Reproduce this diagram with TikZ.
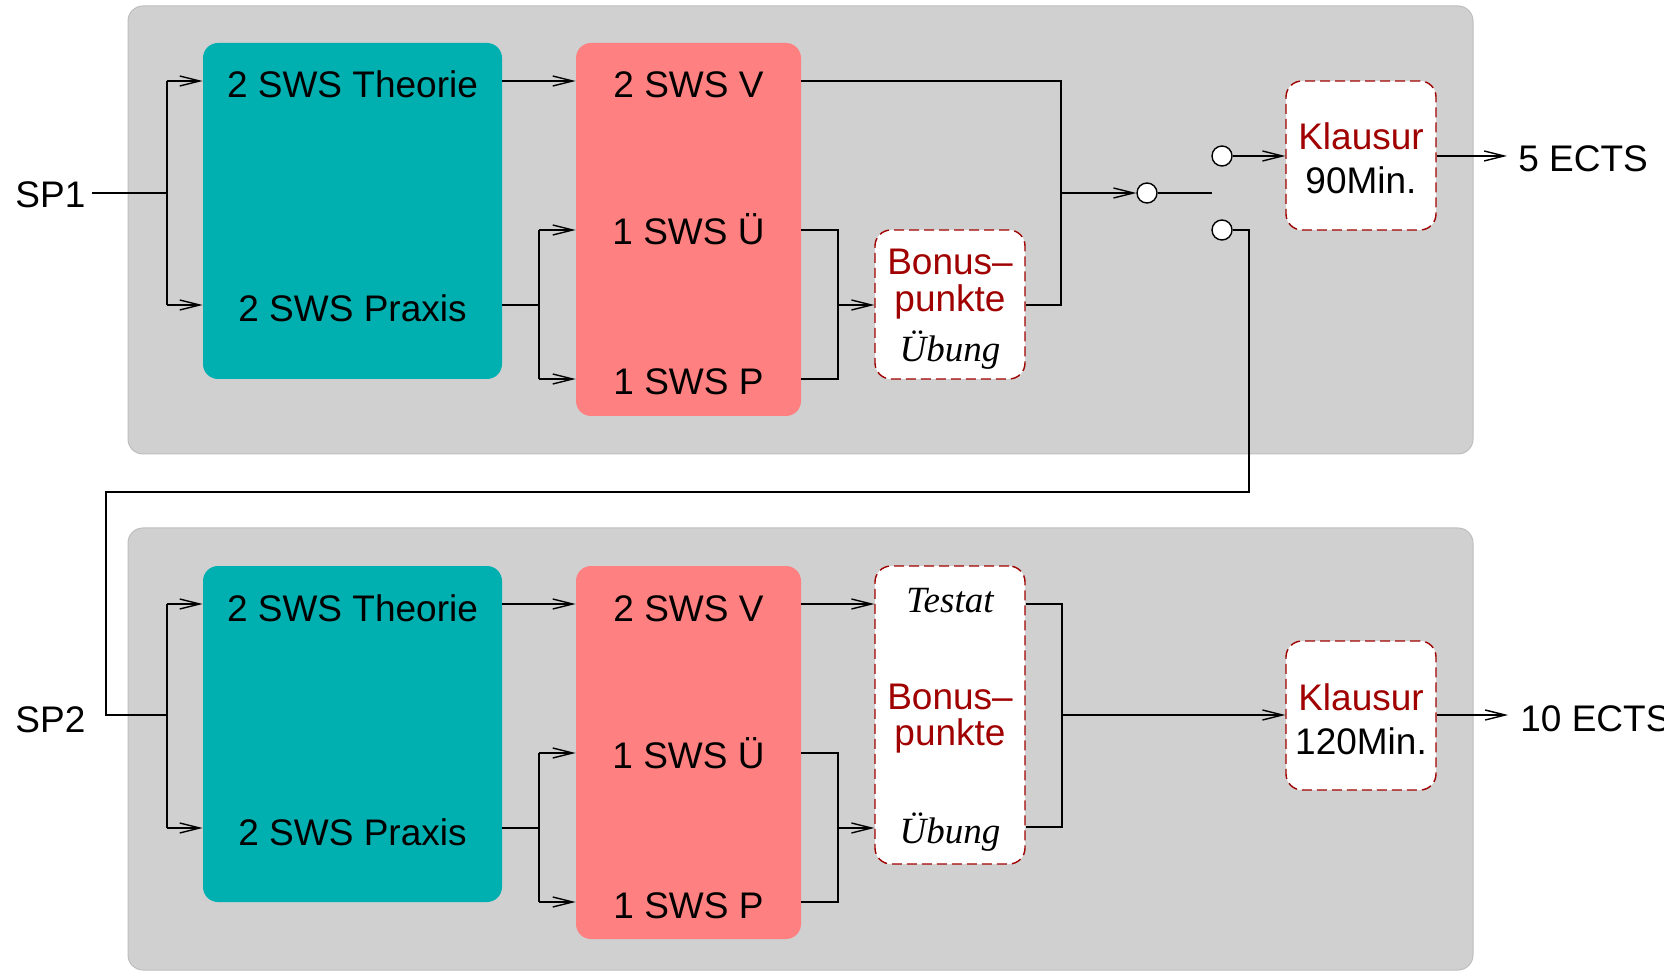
\documentclass[tikz,border=0pt]{standalone}
\usepackage{fontspec}
\setmainfont{Liberation Sans}
\newfontfamily\timesit{Liberation Serif}
\usepackage{tikz}
\usetikzlibrary{calc,arrows.meta,positioning}
\definecolor{panel}{HTML}{D0D0D0}
\definecolor{panelrim}{HTML}{BEBEBE}
\definecolor{theo}{HTML}{00AFAF}
\definecolor{sws}{HTML}{FF8080}
\definecolor{exam}{HTML}{A00000}
\tikzset{
  pane/.style={rectangle, draw=panelrim, fill=panel, line width=0.5pt, rounded corners=7.5pt, inner sep=0pt},
  theobox/.style={rectangle, fill=theo, rounded corners=7.5pt, inner sep=0pt},
  swsbox/.style={rectangle, fill=sws, rounded corners=7.5pt, inner sep=0pt},
  exambox/.style={rectangle, draw=exam, fill=white, line width=0.7pt, dash pattern=on 5pt off 2.5pt, rounded corners=8pt, inner sep=0pt},
  wire/.style={draw=black, line width=0.7pt},
  arr/.style={wire, -{Straight Barb[length=10pt,width=5pt]}},
  swc/.style={circle, draw=black, fill=white, line width=0.7pt, minimum size=10pt, inner sep=0pt},
  lab/.style={font=\fontsize{18.5}{22}\selectfont, inner sep=0pt, anchor=base},
  labr/.style={lab, text=exam},
  labi/.style={lab, font=\fontsize{18.5}{22}\selectfont\timesit\itshape},
}

\begin{document}
\begin{tikzpicture}[x=0.5pt,y=-0.5pt]
\useasboundingbox (0,0) rectangle (1664,972);

% panels
\node[pane, minimum width=672.5pt, minimum height=224pt] (pan1) at (800.5,230) {};
\node[pane, minimum width=672.5pt, minimum height=221pt] (pan2) at (800.5,749) {};

% bonus and exam boxes
\node[exambox, minimum width=75pt, minimum height=74.5pt] (bp1) at (950,304.5) {};
\node[exambox, minimum width=75pt, minimum height=149pt] (bp2) at (950,715) {};
\node[exambox, minimum width=75pt, minimum height=74.5pt] (kl1) at (1361,155.5) {};
\node[exambox, minimum width=75pt, minimum height=74.5pt] (kl2) at (1361,715.5) {};

% both rows
\foreach \r/\dy in {1/0,2/523}{
  \node[theobox, minimum width=149.5pt, minimum height=168pt] (th\r) at (352.5,211+\dy) {};
  \node[swsbox, minimum width=112.5pt, minimum height=186.5pt] (vl\r) at (688.5,229.5+\dy) {};
  \node[lab] (tt\r) at (352.5,98+\dy) {2 SWS Theorie};
  \node[lab] (tp\r) at (352.5,322+\dy) {2 SWS Praxis};
  \node[lab] (sv\r) at (688.5,98+\dy) {2 SWS V};
  \node[lab] (su\r) at (688.5,245+\dy) {1 SWS Ü};
  \node[lab] (sp\r) at (688.5,395+\dy) {1 SWS P};

  \coordinate (jt\r) at (167,81+\dy);
  \coordinate (jp\r) at (167,305+\dy);
  \coordinate (jq\r) at (539,305+\dy);
  \coordinate (jqa\r) at (539,230+\dy);
  \coordinate (jqb\r) at (539,379+\dy);
  \coordinate (jua\r) at (838,230+\dy);
  \coordinate (jub\r) at (838,379+\dy);
  \coordinate (ju\r) at (838,305+\dy);

  \draw[wire] (jt\r) -- (jp\r);
  \draw[arr] (jt\r) -- (jt\r -| th\r.west);
  \draw[arr] (jp\r) -- (jp\r -| th\r.west);
  \draw[arr] (th\r.east |- jt\r) -- (vl\r.west |- jt\r);
  \draw[wire] (th\r.east |- jq\r) -- (jq\r);
  \draw[wire] (jqa\r) -- (jqb\r);
  \draw[arr] (jqa\r) -- (jqa\r -| vl\r.west);
  \draw[arr] (jqb\r) -- (jqb\r -| vl\r.west);
  \draw[wire] (vl\r.east |- jua\r) -- (jua\r) -- (jub\r) -- (vl\r.east |- jub\r);
  \draw[arr] (ju\r) -- (ju\r -| bp\r.west);
}

% row 1
\node[lab, anchor=base west] (sp1l) at (15,208) {SP1};
\coordinate (in1) at (92,193);
\coordinate (js1) at (167,193);
\draw[wire] (in1) -- (js1);

\node[labr] (bo1) at (950,275) {Bonus–};
\node[labr] (pu1) at (950,312) {punkte};
\node[labi] (ub1) at (950,362) {Übung};
\node[labr] (kt1) at (1361,150) {Klausur};
\node[lab] (km1) at (1361,194) {90Min.};
\node[lab, anchor=base west] (ects1) at (1518,172) {5 ECTS};

\coordinate (jv1) at (1061,81);
\coordinate (jb1) at (1061,305);
\coordinate (jm1) at (1061,193);
\draw[wire] (vl1.east |- jv1) -- (jv1) -- (jb1) -- (bp1.east |- jb1);

% switch
\node[swc] (sm) at (1147,193) {};
\node[swc] (so) at (1222,156) {};
\node[swc] (su) at (1222,230) {};
\coordinate (swe) at (1212,193);
\draw[arr] (jm1) -- (sm);
\draw[wire] (sm) -- (swe);
\draw[arr] (so) -- (so -| kl1.west);
\coordinate (e1) at (1507,156);
\draw[arr] (kl1.east |- so) -- (e1);

% loop to SP2
\coordinate (l1) at (1249,230);
\coordinate (l2) at (1249,492);
\coordinate (l3) at (106,492);
\coordinate (l4) at (106,715);
\coordinate (js2) at (167,715);
\draw[wire] (su) -- (l1) -- (l2) -- (l3) -- (l4) -- (js2);

% row 2
\node[lab, anchor=base west] (sp2l) at (15,732) {SP2};
\node[labi] (te2) at (950,612) {Testat};
\node[labr] (bo2) at (950,709) {Bonus–};
\node[labr] (pu2) at (950,745) {punkte};
\node[labi] (ub2) at (950,843) {Übung};
\node[labr] (kt2) at (1361,710) {Klausur};
\node[lab] (km2) at (1361,754) {120Min.};
\node[lab, anchor=base west] (ects2) at (1520,731) {10 ECTS};

\draw[arr] (vl2.east |- jt2) -- (bp2.west |- jt2);
\coordinate (jv2) at (1062,604);
\coordinate (jb2) at (1062,827);
\coordinate (jm2) at (1062,715);
\draw[wire] (bp2.east |- jv2) -- (jv2) -- (jb2) -- (bp2.east |- jb2);
\draw[arr] (jm2) -- (jm2 -| kl2.west);
\coordinate (e2) at (1508,715);
\draw[arr] (kl2.east |- jm2) -- (e2);
\end{tikzpicture}
\end{document}
